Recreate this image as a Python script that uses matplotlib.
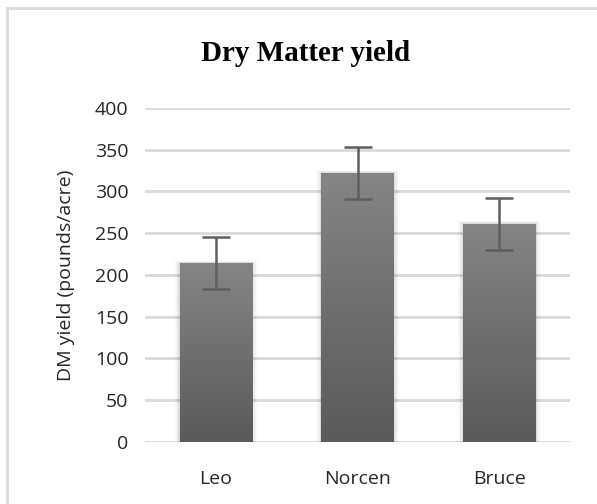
import matplotlib.pyplot as plt
import numpy as np
from matplotlib.patches import Rectangle

varieties = ["Leo", "Norcen", "Bruce"]
dm_yield = [214, 322, 261]
yield_err = [31, 31, 31]
y_ticks = [0, 50, 100, 150, 200, 250, 300, 350, 400]

plt.rcParams["font.family"] = ["Open Sans", "DejaVu Sans"]

fig = plt.figure(figsize=(5.97, 5.04), dpi=100)
fig.patches.append(Rectangle((0.012, -0.05), 1.1, 1.034, transform=fig.transFigure,
                             fill=False, edgecolor="#d9d9d9", linewidth=2))
ax = fig.add_axes([0.243, 0.123, 0.712, 0.663])

x = np.arange(len(varieties))
width = 0.51
bars = ax.bar(x, dm_yield, width=width, color="none", zorder=3)

# vertical gradient fill, lighter at the top
grad = np.linspace(0, 1, 256).reshape(-1, 1)
cmap = plt.matplotlib.colors.LinearSegmentedColormap.from_list("g", ["#5a5a5a", "#858585"])
for b in bars:
    x0, w, h = b.get_x(), b.get_width(), b.get_height()
    # soft shadow round the bar
    for i, a in enumerate([0.06, 0.04, 0.025, 0.015]):
        pad = 0.01 * (i + 1)
        ax.add_patch(Rectangle((x0 - pad, 0), w + 2 * pad, h + pad * 100,
                               color="black", alpha=a, lw=0, zorder=2))
    im = ax.imshow(grad, extent=(x0, x0 + w, 0, h), origin="lower", cmap=cmap,
                   aspect="auto", zorder=3)
    im.set_clip_path(b)

ax.errorbar(x, dm_yield, yerr=yield_err, fmt="none", ecolor="#5f5f5f",
            elinewidth=1.8, capsize=10, capthick=1.8, zorder=4)

ax.set_xlim(-0.5, 2.5)
ax.set_ylim(0, 400)
ax.set_yticks(y_ticks)
ax.set_xticks(x)
ax.set_xticklabels(varieties)
ax.tick_params(length=0, labelsize=14, colors="#262626", pad=12)
ax.tick_params(axis="x", pad=20)
ax.grid(axis="y", color="#d9d9d9", linewidth=2, zorder=0)
ax.set_axisbelow(True)
for s in ax.spines.values():
    s.set_visible(False)

ax.set_ylabel("DM yield (pounds/acre)", fontsize=14, color="#262626", labelpad=14)
fig.text(0.512, 0.893, "Dry Matter yield", ha="center", va="center",
         fontsize=21, fontweight="bold", family="Liberation Serif")

fig.savefig("out.png", dpi=100)
